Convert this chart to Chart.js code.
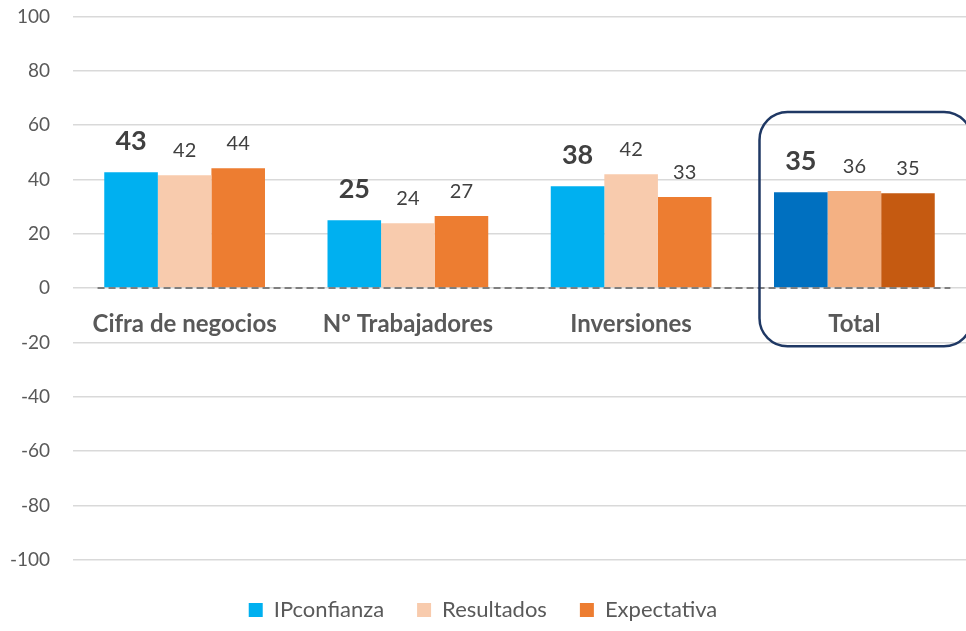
<!DOCTYPE html>
<html>
<head>
<meta charset="utf-8">
<script src="https://cdn.jsdelivr.net/npm/chart.js@4.4.1/dist/chart.umd.min.js"></script>
<style>
  html, body { margin: 0; padding: 0; background: #fff; overflow: hidden; }
  #wrap { width: 966px; height: 649px; margin-top: -18px; }
</style>
</head>
<body>
<div id="wrap"><canvas id="myChart"></canvas></div>
<script>
//Data_
const categorias = ['Cifra de negocios', 'Nº Trabajadores', 'Inversiones', 'Total'];
const ipconfianza = [42.6, 25.0, 37.5, 35.3];
const resultados = [41.5, 23.9, 41.9, 35.7];
const expectativa = [44.1, 26.5, 33.5, 34.9];
const etiquetasIp = ['43', '25', '38', '35'];
const etiquetasRes = ['42', '24', '42', '36'];
const etiquetasExp = ['44', '27', '33', '35'];

//Colors_
const colorTxt = '#595959';
const fontName = 'Lato, "Open Sans", sans-serif';

function colorBar(normal, total) {
    return (ctx) => ctx.dataIndex === 3 ? total : normal;
}

//Plugins_
const labelsPlugin = {
    id: 'labelsPlugin',
    afterDatasetsDraw(chart) {
        const ctx = chart.ctx;
        const textos = [etiquetasIp, etiquetasRes, etiquetasExp];
        ctx.save();
        ctx.textAlign = 'center';
        ctx.textBaseline = 'middle';
        ctx.fillStyle = '#404040';
        chart.data.datasets.forEach((ds, i) => {
            const meta = chart.getDatasetMeta(i);
            meta.data.forEach((bar, j) => {
                if (i === 0) {
                    ctx.font = 'bold 27px ' + fontName;
                    ctx.fillText(textos[i][j], bar.x, bar.y - 31);
                } else {
                    ctx.font = '20px ' + fontName;
                    ctx.fillText(textos[i][j], bar.x, bar.y - 25);
                }
            });
        });
        ctx.restore();
    }
};

const boxPlugin = {
    id: 'boxPlugin',
    afterDraw(chart) {
        const x = chart.scales.x;
        const y = chart.scales.y;
        const ctx = chart.ctx;
        const left = x.getPixelForValue(2.575);
        const right = x.getPixelForValue(3.5) + 6;
        const top = y.getPixelForValue(64.8);
        const bottom = y.getPixelForValue(-21.4);
        ctx.save();
        ctx.strokeStyle = '#1F3864';
        ctx.lineWidth = 2.5;
        ctx.beginPath();
        ctx.roundRect(left, top, right - left, bottom - top, 28);
        ctx.stroke();
        ctx.restore();
    }
};

const zeroPlugin = {
    id: 'zeroPlugin',
    afterDatasetsDraw(chart) {
        const x = chart.scales.x;
        const y = chart.scales.y;
        const ctx = chart.ctx;
        const py = y.getPixelForValue(0);
        ctx.save();
        ctx.strokeStyle = '#7f7f7f';
        ctx.lineWidth = 2;
        ctx.setLineDash([7, 4]);
        ctx.beginPath();
        ctx.moveTo(x.getPixelForValue(-0.39), py);
        ctx.lineTo(x.getPixelForValue(3.43), py);
        ctx.stroke();
        ctx.restore();
    }
};

//Chart_
const config = {
    type: 'bar',
    data: {
        labels: categorias,
        datasets: [
            { label: 'IPconfianza', data: ipconfianza, backgroundColor: colorBar('#00B0F0', '#0070C0') },
            { label: 'Resultados', data: resultados, backgroundColor: colorBar('#F8CBAD', '#F4B183') },
            { label: 'Expectativa', data: expectativa, backgroundColor: colorBar('#ED7D31', '#C55A11') }
        ]
    },
    options: {
        responsive: true,
        maintainAspectRatio: false,
        animation: false,
        layout: { padding: { top: 0, right: 0, bottom: 0, left: 0 } },
        datasets: { bar: { categoryPercentage: 0.72, barPercentage: 1 } },
        plugins: {
            legend: {
                position: 'bottom',
                title: { display: true, text: ' ', font: { size: 1 }, padding: { top: 0, bottom: 5 } },
                labels: {
                    boxWidth: 14,
                    boxHeight: 14,
                    padding: 33,
                    color: colorTxt,
                    font: { family: fontName, size: 22 }
                }
            },
            tooltip: { enabled: false }
        },
        scales: {
            x: {
                position: { y: 0 },
                grid: { display: false, drawTicks: false },
                border: { display: false },
                ticks: {
                    color: colorTxt,
                    padding: 22,
                    font: { family: fontName, size: 24, weight: 'bold' }
                }
            },
            y: {
                min: -100,
                max: 100,
                afterFit: (s) => { s.width = 73; },
                grid: { color: '#d9d9d9', lineWidth: 1.5, drawTicks: false },
                border: { display: false },
                ticks: {
                    stepSize: 20,
                    padding: 23,
                    color: colorTxt,
                    font: { family: fontName, size: 19 }
                }
            }
        }
    },
    plugins: [zeroPlugin, labelsPlugin, boxPlugin]
};

const chart = new Chart(document.getElementById('myChart'), config);
</script>
</body>
</html>
